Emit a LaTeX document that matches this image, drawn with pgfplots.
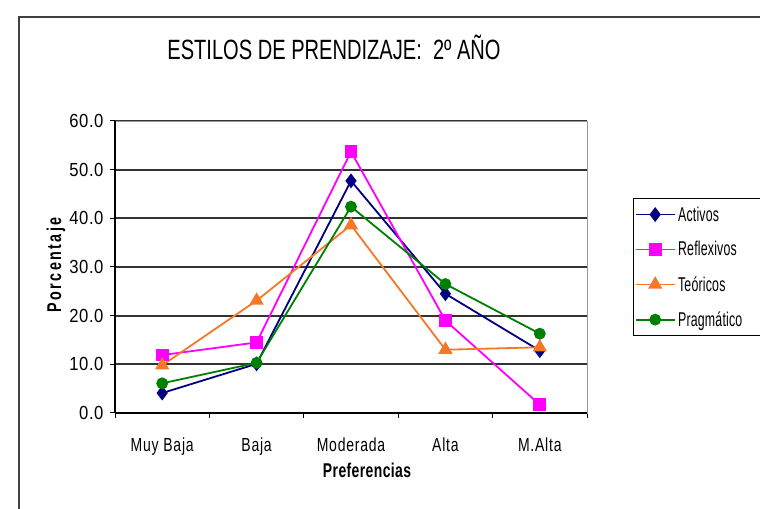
\documentclass[border=0pt]{standalone}
\usepackage{fontspec}
\setmainfont{Liberation Sans}[FakeStretch=0.72]
\newfontfamily\tickfont{Liberation Sans}[FakeStretch=0.74, LetterSpace=4]
\newfontfamily\numfont{Liberation Sans}[FakeStretch=0.88, LetterSpace=3]
\newfontfamily\ylabfont{Liberation Sans}[FakeStretch=0.72, LetterSpace=12]
\newfontfamily\xlabfont{Liberation Sans}[FakeStretch=0.70, LetterSpace=2]
\newfontfamily\legfont{Liberation Sans}[FakeStretch=0.62, LetterSpace=1]
\usepackage{pgfplots}
\pgfplotsset{compat=1.18}
\definecolor{cAct}{RGB}{0,0,128}
\definecolor{cRef}{RGB}{255,0,255}
\definecolor{cTeo}{RGB}{245,120,40}
\definecolor{cPra}{RGB}{0,128,0}
\begin{document}
\begin{tikzpicture}[x=1bp,y=1bp]
\path[use as bounding box] (0,0) rectangle (760,509);
\draw[black!75, line width=1.2bp] (19,0)--(19,492)--(760,492);
\begin{axis}[
  at={(115bp,96bp)}, anchor=south west,
  scale only axis, width=472bp, height=292bp,
  xmin=0.5, xmax=5.5, ymin=0, ymax=60,
  xtick={0.5,1.5,...,5.5}, x tick label as interval,
  xticklabels={Muy Baja,Baja,Moderada,Alta,M.Alta},
  ytick={0,10,...,60},
  yticklabel style={font=\numfont\fontsize{19}{21}\selectfont, xshift=-3bp,
    /pgf/number format/.cd,fixed,fixed zerofill,precision=1,assume math mode=true},
  xticklabel style={font=\tickfont\fontsize{19}{21}\selectfont, yshift=-16bp},
  ymajorgrids, major grid style={black!80, line width=1.7bp},
  axis line style={draw=black!40, line width=0.8bp},
  tick style={black, line width=1bp}, tick align=outside, major tick length=5bp,
  xtick pos=bottom, ytick pos=left,
  xlabel={\xlabfont\bfseries Preferencias},
  xlabel style={at={(axis description cs:0.534,-0.195)}, anchor=center, font=\fontsize{20}{22}\selectfont},
  ylabel={\ylabfont\bfseries Porcentaje},
  ylabel style={at={(axis description cs:-0.125,0.507)}, anchor=center, font=\fontsize{20}{22}\selectfont},
  title={ESTILOS DE PRENDIZAJE:\ \ 2º AÑO},
  title style={at={(axis description cs:0.464,1.233)}, anchor=center, font=\fontsize{28}{30}\selectfont},
  legend style={at={(axis description cs:1.097,0.736)}, anchor=north west, draw=black, line width=1bp,
    font=\legfont\fontsize{20}{22}\selectfont, row sep=15bp, inner xsep=2bp, inner ysep=6bp,
    /tikz/every even column/.append style={column sep=0bp}},
  legend cell align=left,
  legend image code/.code={\draw[#1] (-2bp,0bp) -- (37bp,0bp); \draw[#1, only marks] plot coordinates {(17bp,0bp)};},
  every axis plot/.append style={line width=1.8bp},
]
\addplot[cAct, mark=diamond*, mark size=6bp, mark options={solid}] coordinates {(1,4.1) (2,10.1) (3,47.7) (4,24.5) (5,12.8)};
\addlegendentry{\makebox[95bp][l]{Activos}}
\addplot[cRef, mark=square*, mark size=5.5bp] coordinates {(1,11.9) (2,14.5) (3,53.7) (4,19.0) (5,1.7)};
\addlegendentry{Reflexivos}
\addplot[cTeo, mark=triangle*, mark size=6.5bp] coordinates {(1,9.8) (2,23.1) (3,38.6) (4,13.0) (5,13.5)};
\addlegendentry{Teóricos}
\addplot[cPra, mark=*, mark size=5bp] coordinates {(1,6.1) (2,10.3) (3,42.4) (4,26.5) (5,16.3)};
\addlegendentry{Pragmático}
\end{axis}
\draw[black, line width=1.2bp] (115,96)--(115,388);
\draw[black, line width=1.2bp] (115,96)--(587,96);
\end{tikzpicture}
\end{document}
